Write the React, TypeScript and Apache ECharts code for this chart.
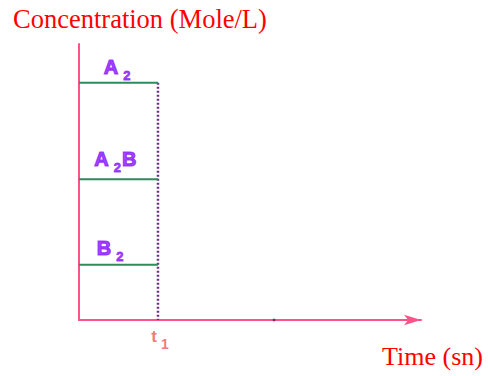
import React, { useEffect, useRef } from "react";
import * as echarts from "echarts";

// Data
const species = ["A2", "A2B", "B2"];
const levels = [8.6, 5.1, 2.0]; // concentration levels (arbitrary units)
const t1 = 1; // time at which equilibrium is reached
const xMax = 4.33;
const yMax = 10;
const labelX = [0.49, 0.46, 0.4];
const xTickValues = [1];
const xTickLabels = ["{t|t}{s|1}"];
const speciesRich = ["{m|A}{s|2}", "{m|A}{s|2}{m|B}", "{m|B}{s|2}"];
const markDot = [[2.47, 0]];

export default function App() {
  const ref = useRef<HTMLDivElement>(null);
  useEffect(() => {
    const chart = echarts.init(ref.current!, null, { renderer: "svg" });
    const axisColor = "#fb5288";
    const green = "#2f8a5c";
    const purple = "#8a17ff";
    const lineSeries = species.map((name, i) => ({
      type: "line",
      name,
      data: [
        [0, levels[i]],
        [t1, levels[i]],
      ],
      symbol: "none",
      lineStyle: { color: green, width: 2 },
      z: 3,
    }));
    const labelOffsets = [-16, -20, -16.5];
    const labelSeries = species.map((name, i) => ({
      type: "scatter",
      name: name + "-label",
      data: [[labelX[i], levels[i]]],
      symbolSize: 0,
      silent: true,
      label: {
        show: true,
        position: "inside",
        offset: [0, labelOffsets[i]],
        formatter: () => speciesRich[i],
        rich: {
          m: {
            fontFamily: "Liberation Sans",
            fontWeight: "bold",
            fontSize: 20,
            lineHeight: 20,
            color: purple,
            textBorderColor: purple,
            textBorderWidth: 1.2,
            verticalAlign: "top",
          },
          s: {
            fontFamily: "Liberation Sans",
            fontWeight: "bold",
            fontSize: 13,
            lineHeight: 13,
            color: purple,
            textBorderColor: purple,
            textBorderWidth: 0.8,
            verticalAlign: "top",
            padding: [12, 1, 0, 5],
          },
        },
      },
    }));
    const option = {
      animation: false,
      grid: { left: 79, top: 44, right: 67, bottom: 56 },
      graphic: [
        {
          type: "text",
          left: 13,
          top: 5,
          style: {
            text: "Concentration (Mole/L)",
            font: "26.5px 'Liberation Serif'",
            fill: "#ff0000",
          },
        },
        {
          type: "text",
          right: 5,
          top: 343,
          style: {
            text: "Time (sn)",
            font: "26px 'Liberation Serif'",
            fill: "#ff0000",
          },
        },
      ],
      xAxis: {
        type: "value",
        min: 0,
        max: xMax,
        interval: 1,
        axisLine: {
          show: true,
          symbol: ["none", "arrow"],
          symbolSize: [8, 17],
          lineStyle: { color: axisColor, width: 2 },
        },
        axisTick: { show: false },
        splitLine: { show: false },
        axisLabel: {
          show: true,
          margin: 8,
          showMaxLabel: false,
          formatter: (v: number) => {
            const idx = xTickValues.indexOf(v);
            return idx >= 0 ? xTickLabels[idx] : "";
          },
          rich: {
            t: {
              fontFamily: "Liberation Sans",
              fontWeight: "bold",
              fontSize: 17,
              lineHeight: 17,
              color: "#f47a7a",
              verticalAlign: "top",
              padding: [0, 0, 0, 4],
            },
            s: {
              fontFamily: "Liberation Sans",
              fontWeight: "bold",
              fontSize: 14,
              lineHeight: 14,
              color: "#f47a7a",
              verticalAlign: "top",
              padding: [9, 0, 0, 4],
            },
          },
        },
      },
      yAxis: {
        type: "value",
        min: 0,
        max: yMax,
        axisLine: { show: true, lineStyle: { color: axisColor, width: 2 } },
        axisTick: { show: false },
        axisLabel: { show: false },
        splitLine: { show: false },
      },
      series: [
        ...lineSeries,
        {
          type: "line",
          name: "t1",
          data: [
            [t1, levels[0]],
            [t1, 0],
          ],
          symbol: "none",
          lineStyle: { color: "#6e2f8a", width: 2.5, type: [2, 2] },
          z: 2,
        },
        ...labelSeries,
        {
          type: "scatter",
          name: "dot",
          data: markDot,
          symbolSize: 3,
          itemStyle: { color: "#5a2a5a" },
          z: 5,
        },
      ],
    };
    chart.setOption(option as any);
    return () => chart.dispose();
  }, []);
  return <div ref={ref} style={{ width: 488, height: 376, position: "absolute", left: 0, top: 0 }} />;
}
